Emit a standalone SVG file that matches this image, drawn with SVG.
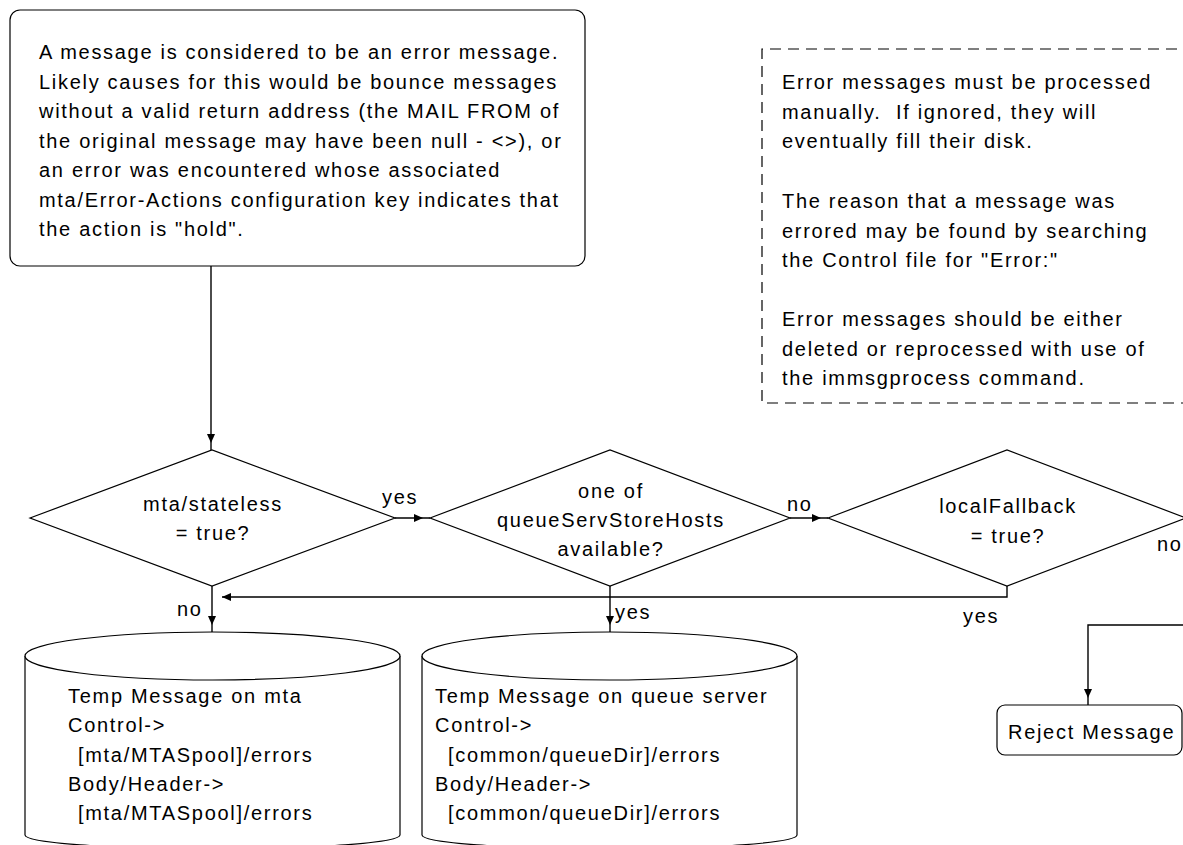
<svg xmlns="http://www.w3.org/2000/svg" width="1183" height="845" viewBox="0 0 1183 845">
<defs>
<style>
text{font-family:"Liberation Sans",Arial,sans-serif;font-size:20px;letter-spacing:1.7px;fill:#000}
.c{text-anchor:middle}
.shape{fill:#fff;stroke:#000;stroke-width:1.2}
.dash{fill:none;stroke:#000;stroke-width:1.2;stroke-dasharray:11 7}
.conn{fill:none;stroke:#000;stroke-width:1.4}
</style>
<marker id="ah" markerWidth="10" markerHeight="8" refX="16" refY="4" orient="auto" markerUnits="userSpaceOnUse">
<path d="M0,0 L9,4 L0,8 Z" fill="#000"/>
</marker>
<marker id="ah0" markerWidth="10" markerHeight="8" refX="9" refY="4" orient="auto" markerUnits="userSpaceOnUse">
<path d="M0,0 L9,4 L0,8 Z" fill="#000"/>
</marker>
</defs>
<rect width="1183" height="845" fill="#fff"/>

<g id="connectors">
<path class="conn" d="M211,266 V450" marker-end="url(#ah)"/>
<path class="conn" d="M395,518 H430" marker-end="url(#ah)"/>
<path class="conn" d="M790,518 H828" marker-end="url(#ah)"/>
<path class="conn" d="M1007,586 V597 H222" marker-end="url(#ah0)"/>
<path class="conn" d="M212,586 V632" marker-end="url(#ah)"/>
<path class="conn" d="M610,586 V632" marker-end="url(#ah)"/>
<path class="conn" d="M1186,518 H1200 V625 H1088 V705" marker-end="url(#ah)"/>
<text x="382" y="504">yes</text>
<text x="787" y="511">no</text>
<text x="1157" y="551">no</text>
<text x="177" y="616">no</text>
<text x="615" y="619">yes</text>
<text x="963" y="623">yes</text>
</g>

<g id="error-message">
<rect class="shape" x="10" y="10" width="575" height="256" rx="10"/>
<text x="39" y="59">A message is considered to be an error message.</text>
<text x="39" y="88.5">Likely causes for this would be bounce messages</text>
<text x="39" y="118">without a valid return address (the MAIL FROM of</text>
<text x="39" y="147.5">the original message may have been null - &lt;&gt;), or</text>
<text x="39" y="177">an error was encountered whose associated</text>
<text x="39" y="206.5">mta/Error-Actions configuration key indicates that</text>
<text x="39" y="236">the action is "hold".</text>
</g>

<g id="note">
<path class="dash" d="M1195,49 H762 V403 H1195"/>
<text x="782" y="89">Error messages must be processed</text>
<text x="782" y="119">manually.&#160; If ignored, they will</text>
<text x="782" y="148">eventually fill their disk.</text>
<text x="782" y="208">The reason that a message was</text>
<text x="782" y="238">errored may be found by searching</text>
<text x="782" y="267">the Control file for "Error:"</text>
<text x="782" y="326">Error messages should be either</text>
<text x="782" y="356">deleted or reprocessed with use of</text>
<text x="782" y="385">the immsgprocess command.</text>
</g>

<g id="stateless">
<polygon class="shape" points="30,518 212,450 395,518 212,586"/>
<text class="c" x="213" y="511">mta/stateless</text>
<text class="c" x="213" y="540">= true?</text>
</g>

<g id="queueserver">
<polygon class="shape" points="430,518 610,450 790,518 610,586"/>
<text class="c" x="611" y="498">one of</text>
<text class="c" x="611" y="527">queueServStoreHosts</text>
<text class="c" x="611" y="556">available?</text>
</g>

<g id="fallback">
<polygon class="shape" points="828,518 1007,450 1186,518 1007,586"/>
<text class="c" x="1008" y="513">localFallback</text>
<text class="c" x="1008" y="543">= true?</text>
</g>

<g id="mta-store">
<path class="shape" d="M25,656 V835 A187.5,14 0 0 0 400,835 V656"/>
<ellipse class="shape" cx="212.5" cy="656" rx="187.5" ry="24"/>
<text x="68" y="703">Temp Message on mta</text>
<text x="68" y="732">Control-&gt;</text>
<text x="78" y="762">[mta/MTASpool]/errors</text>
<text x="68" y="791">Body/Header-&gt;</text>
<text x="78" y="820">[mta/MTASpool]/errors</text>
</g>

<g id="queue-store">
<path class="shape" d="M422,656 V835 A187.5,14 0 0 0 797,835 V656"/>
<ellipse class="shape" cx="609.5" cy="656" rx="187.5" ry="24"/>
<text x="435" y="703">Temp Message on queue server</text>
<text x="435" y="732">Control-&gt;</text>
<text x="448" y="762">[common/queueDir]/errors</text>
<text x="435" y="791">Body/Header-&gt;</text>
<text x="448" y="820">[common/queueDir]/errors</text>
</g>

<g id="reject">
<rect class="shape" x="997" y="705" width="185" height="50" rx="8"/>
<text x="1008" y="739">Reject Message</text>
</g>
</svg>
